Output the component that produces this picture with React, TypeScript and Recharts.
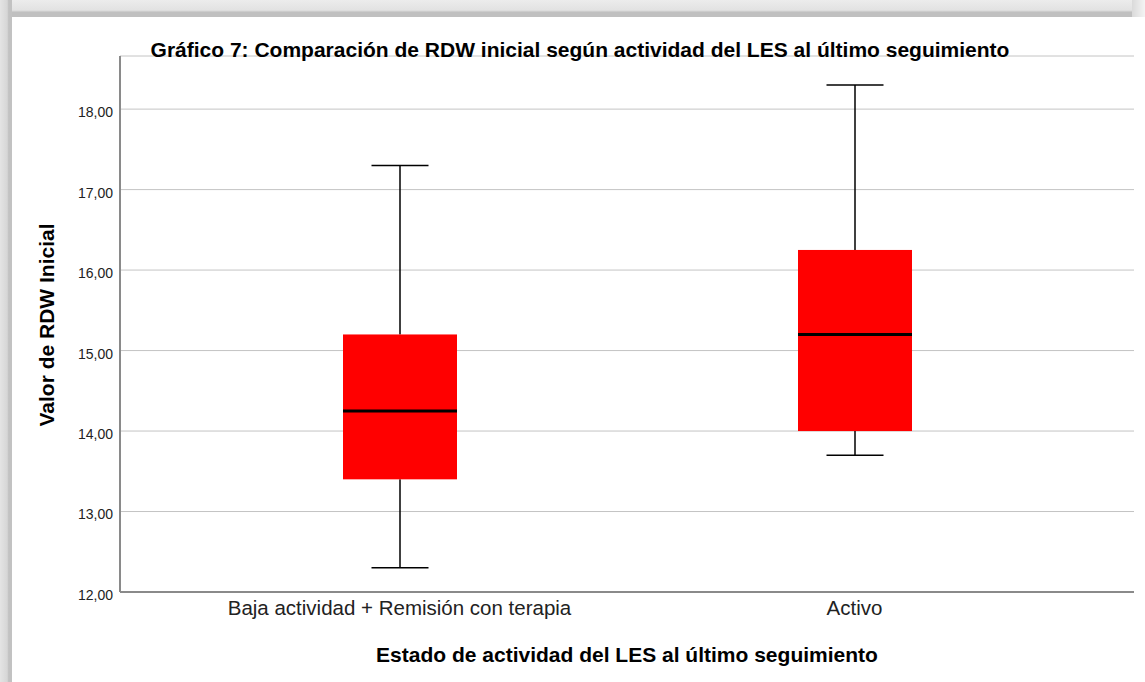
import React from 'react';
import { ComposedChart, Bar, XAxis, YAxis, CartesianGrid } from 'recharts';

const categorias = ['Baja actividad + Remisión con terapia', 'Activo'];
const minimo = [12.3, 13.7];
const q1 = [13.4, 14.0];
const mediana = [14.25, 15.2];
const q3 = [15.2, 16.25];
const maximo = [17.3, 18.3];
const yTicks = [12, 13, 14, 15, 16, 17, 18];

const data = categorias.map((c, i) => ({
  estado: c,
  min: minimo[i],
  q1: q1[i],
  med: mediana[i],
  q3: q3[i],
  max: maximo[i],
}));

const font = '"Liberation Sans", Arial, sans-serif';

// draws the box, median and whiskers from the range bar [q1, q3]
const BoxShape = (props: any) => {
  const { x, y, width, height, payload } = props;
  if (!payload || !height) return null;
  const ppu = height / (payload.q3 - payload.q1);
  const top = y;
  const bottom = y + height;
  const cx = x + width / 2;
  const yMax = top - (payload.max - payload.q3) * ppu;
  const yMin = bottom + (payload.q1 - payload.min) * ppu;
  const yMed = top + (payload.q3 - payload.med) * ppu;
  const cap = width / 4;
  return (
    <g>
      <line x1={cx} x2={cx} y1={yMax} y2={top} stroke="#000" strokeWidth={1.5} />
      <line x1={cx} x2={cx} y1={bottom} y2={yMin} stroke="#000" strokeWidth={1.5} />
      <line x1={cx - cap} x2={cx + cap} y1={yMax} y2={yMax} stroke="#000" strokeWidth={1.5} />
      <line x1={cx - cap} x2={cx + cap} y1={yMin} y2={yMin} stroke="#000" strokeWidth={1.5} />
      <rect x={x} y={top} width={width} height={height} fill="#ff0000" />
      <line x1={x} x2={x + width} y1={yMed} y2={yMed} stroke="#000" strokeWidth={3} />
    </g>
  );
};

export default function App() {
  return (
    <div style={{ position: 'absolute', left: 0, top: 0, width: 1145, height: 682, background: '#fff', overflow: 'hidden' }}>
      {/* marco gris */}
      <div style={{ position: 'absolute', left: 0, top: 0, width: 1132, height: 17, background: 'linear-gradient(#ececec 0%, #e2e2e2 60%, #c0c0c0 72%, #c0c0c0 100%)' }} />
      <div style={{ position: 'absolute', left: 1132, top: 0, width: 13, height: 17, background: 'linear-gradient(90deg, #dadada, #f4f4f4)' }} />
      <div style={{ position: 'absolute', left: 0, top: 0, width: 12, height: 682, background: 'linear-gradient(90deg, #e4e4e4 0%, #d6d6d6 60%, #c2c2c2 72%, #c2c2c2 100%)' }} />

      <ComposedChart
        width={1145}
        height={682}
        data={data}
        margin={{ top: 56, right: 11, bottom: 0, left: 60 }}
        style={{ position: 'absolute', left: 0, top: 0 }}
      >
        <CartesianGrid vertical={false} stroke="#c4c4c4" strokeWidth={1} />
        <XAxis
          dataKey="estado"
          height={90}
          padding={{ left: 52, right: 52 }}
          axisLine={{ stroke: '#8a8a8a', strokeWidth: 2 }}
          tickLine={false}
          tick={{ fill: '#222', fontSize: 20.5, fontFamily: font }}
          tickMargin={2}
        />
        <YAxis
          width={60}
          domain={[12, 18.66]}
          ticks={yTicks}
          interval={0}
          axisLine={{ stroke: '#8a8a8a', strokeWidth: 2 }}
          tickLine={false}
          tickMargin={1}
          tick={{ fill: '#222', fontSize: 14, fontFamily: font, dy: 3 }}
          tickFormatter={(v: number) => v.toFixed(2).replace('.', ',')}
        />
        <Bar
          dataKey={(d: any) => [d.q1, d.q3]}
          barSize={114}
          shape={BoxShape}
          isAnimationActive={false}
        />
      </ComposedChart>

      <div style={{ position: 'absolute', left: 80, width: 1000, top: 38, textAlign: 'center', fontFamily: font, fontWeight: 'bold', fontSize: 21, color: '#000', whiteSpace: 'nowrap' }}>
        Gráfico 7: Comparación de RDW inicial según actividad del LES al último seguimiento
      </div>
      <div style={{ position: 'absolute', left: 127, width: 1000, top: 643, textAlign: 'center', fontFamily: font, fontWeight: 'bold', fontSize: 21, color: '#000', whiteSpace: 'nowrap' }}>
        Estado de actividad del LES al último seguimiento
      </div>
      <div style={{ position: 'absolute', left: 47, top: 325, width: 0, height: 0 }}>
        <div style={{ position: 'absolute', left: -150, top: -12, width: 300, textAlign: 'center', transform: 'rotate(-90deg)', fontFamily: font, fontWeight: 'bold', fontSize: 21, color: '#000', whiteSpace: 'nowrap' }}>
          Valor de RDW Inicial
        </div>
      </div>
    </div>
  );
}
